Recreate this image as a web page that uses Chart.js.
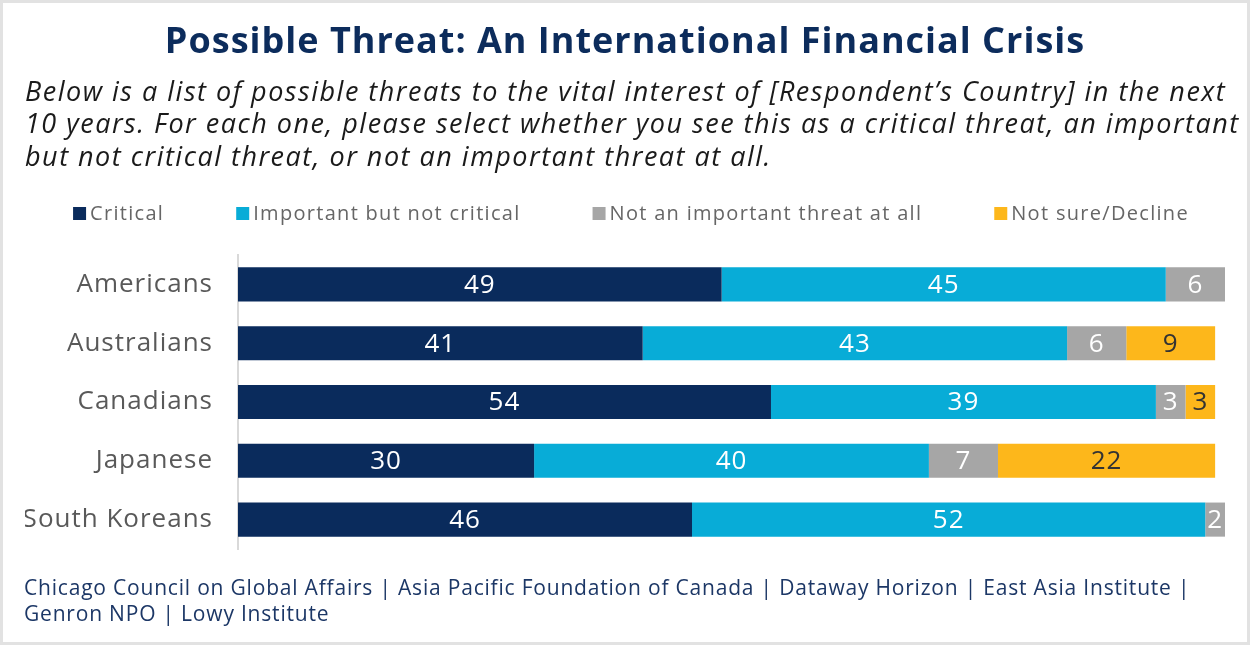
<!DOCTYPE html>
<html>
<head>
<meta charset="utf-8">
<title>Possible Threat: An International Financial Crisis</title>
<script src="https://cdn.jsdelivr.net/npm/chart.js@4.4.1/dist/chart.umd.min.js"></script>
<style>
  html, body { margin: 0; padding: 0; background: #fff; }
  #wrap { width: 1250px; height: 645px; }
</style>
</head>
<body>
<div id="wrap"><canvas id="threat-chart" width="1250" height="645"></canvas></div>
<script>
const FONT = '"Open Sans", "Noto Sans", sans-serif';

const groups = ['Americans', 'Australians', 'Canadians', 'Japanese', 'South Koreans'];
const seriesNames = ['Critical', 'Important but not critical', 'Not an important threat at all', 'Not sure/Decline'];
const critical = [49, 41, 54, 30, 46];
const important = [45, 43, 39, 40, 52];
const notImportant = [6, 6, 3, 7, 2];
const notSure = [0, 9, 3, 22, 0];
const seriesColors = ['#0a2b5c', '#08acd7', '#a6a6a6', '#fdb71b'];
const labelColors = ['#ffffff', '#ffffff', '#ffffff', '#333333'];

const subtitleLines = [
  'Below is a list of possible threats to the vital interest of [Respondent\u2019s Country] in the next',
  '10 years. For each one, please select whether you see this as a critical threat, an important',
  'but not critical threat, or not an important threat at all.'
];
const sourceLines = [
  'Chicago Council on Global Affairs | Asia Pacific Foundation of Canada | Dataway Horizon | East Asia Institute |',
  'Genron NPO | Lowy Institute'
];

// white card with a light grey frame; slightly tracked type throughout
const frame = {
  id: 'frame',
  beforeDraw(chart) {
    const { ctx, width, height } = chart;
    ctx.save();
    ctx.fillStyle = '#fff';
    ctx.fillRect(0, 0, width, height);
    ctx.strokeStyle = '#e2e2e2';
    ctx.lineWidth = 3;
    ctx.strokeRect(1.5, 1.5, width - 3, height - 3);
    ctx.restore();
    ctx.letterSpacing = '1px';
  }
};

// italic question text under the title
const question = {
  id: 'question',
  afterDraw(chart) {
    const { ctx } = chart;
    ctx.save();
    ctx.font = 'italic 27px ' + FONT;
    ctx.letterSpacing = '1.5px';
    ctx.fillStyle = '#1a1a1a';
    ctx.textBaseline = 'middle';
    subtitleLines.forEach((line, i) => ctx.fillText(line, 25, 93 + i * 32.5));
    ctx.restore();
  }
};

// single-row legend with small squares
const rowLegend = {
  id: 'rowLegend',
  afterDraw(chart) {
    const { ctx } = chart;
    const box = 13, gap = 4, spacing = 72, y = 213;
    ctx.save();
    ctx.font = '20px ' + FONT;
    ctx.letterSpacing = '1.3px';
    ctx.textBaseline = 'middle';
    const items = chart.data.datasets.map(ds => ({
      text: ds.label,
      color: ds.backgroundColor,
      w: box + gap + ctx.measureText(ds.label).width
    }));
    const total = items.reduce((a, it) => a + it.w, 0) + spacing * (items.length - 1);
    let x = 631 - total / 2;
    items.forEach(it => {
      ctx.fillStyle = it.color;
      ctx.fillRect(x, y - 6, box, box);
      ctx.fillStyle = '#666666';
      ctx.fillText(it.text, x + box + gap, y + 1);
      x += it.w + spacing;
    });
    ctx.restore();
  }
};

// value printed in the middle of each segment
const barValues = {
  id: 'barValues',
  afterDatasetsDraw(chart) {
    const { ctx } = chart;
    ctx.save();
    ctx.font = '26px ' + FONT;
    ctx.textAlign = 'center';
    ctx.textBaseline = 'middle';
    chart.data.datasets.forEach((ds, i) => {
      const meta = chart.getDatasetMeta(i);
      meta.data.forEach((bar, j) => {
        const v = ds.data[j];
        if (!v) return;
        ctx.fillStyle = labelColors[i];
        ctx.fillText(String(v), (bar.x + bar.base) / 2, bar.y + 1);
      });
    });
    ctx.restore();
  }
};

// source line under the chart
const sourceNote = {
  id: 'sourceNote',
  afterDraw(chart) {
    const { ctx } = chart;
    ctx.save();
    ctx.font = '21px ' + FONT;
    ctx.letterSpacing = '0.8px';
    ctx.fillStyle = '#1c3766';
    ctx.textBaseline = 'middle';
    sourceLines.forEach((line, i) => ctx.fillText(line, 24, 589 + i * 26));
    ctx.restore();
  }
};

const values = [critical, important, notImportant, notSure];

new Chart(document.getElementById('threat-chart'), {
  type: 'bar',
  data: {
    labels: groups,
    datasets: seriesNames.map((name, i) => ({
      label: name,
      data: values[i],
      backgroundColor: seriesColors[i],
      borderWidth: 0,
      categoryPercentage: 1,
      barPercentage: 0.58
    }))
  },
  options: {
    indexAxis: 'y',
    responsive: false,
    animation: false,
    layout: { padding: { left: 25, right: 25, top: 0, bottom: 96 } },
    plugins: {
      title: {
        display: true,
        text: 'Possible Threat: An International Financial Crisis',
        color: '#0c2c5c',
        font: { family: FONT, size: 36, weight: 'bold' },
        padding: { top: 21, bottom: 190.8 }
      },
      legend: { display: false },
      tooltip: { enabled: false }
    },
    scales: {
      x: { stacked: true, min: 0, max: 100, display: false },
      y: {
        stacked: true,
        grid: { display: false, drawTicks: false },
        border: { color: '#d9d9d9', width: 2 },
        ticks: { color: '#595959', font: { family: FONT, size: 26 }, padding: 25 },
        afterFit: s => { s.width = 213; }
      }
    }
  },
  plugins: [frame, question, rowLegend, barValues, sourceNote]
});
</script>
</body>
</html>
